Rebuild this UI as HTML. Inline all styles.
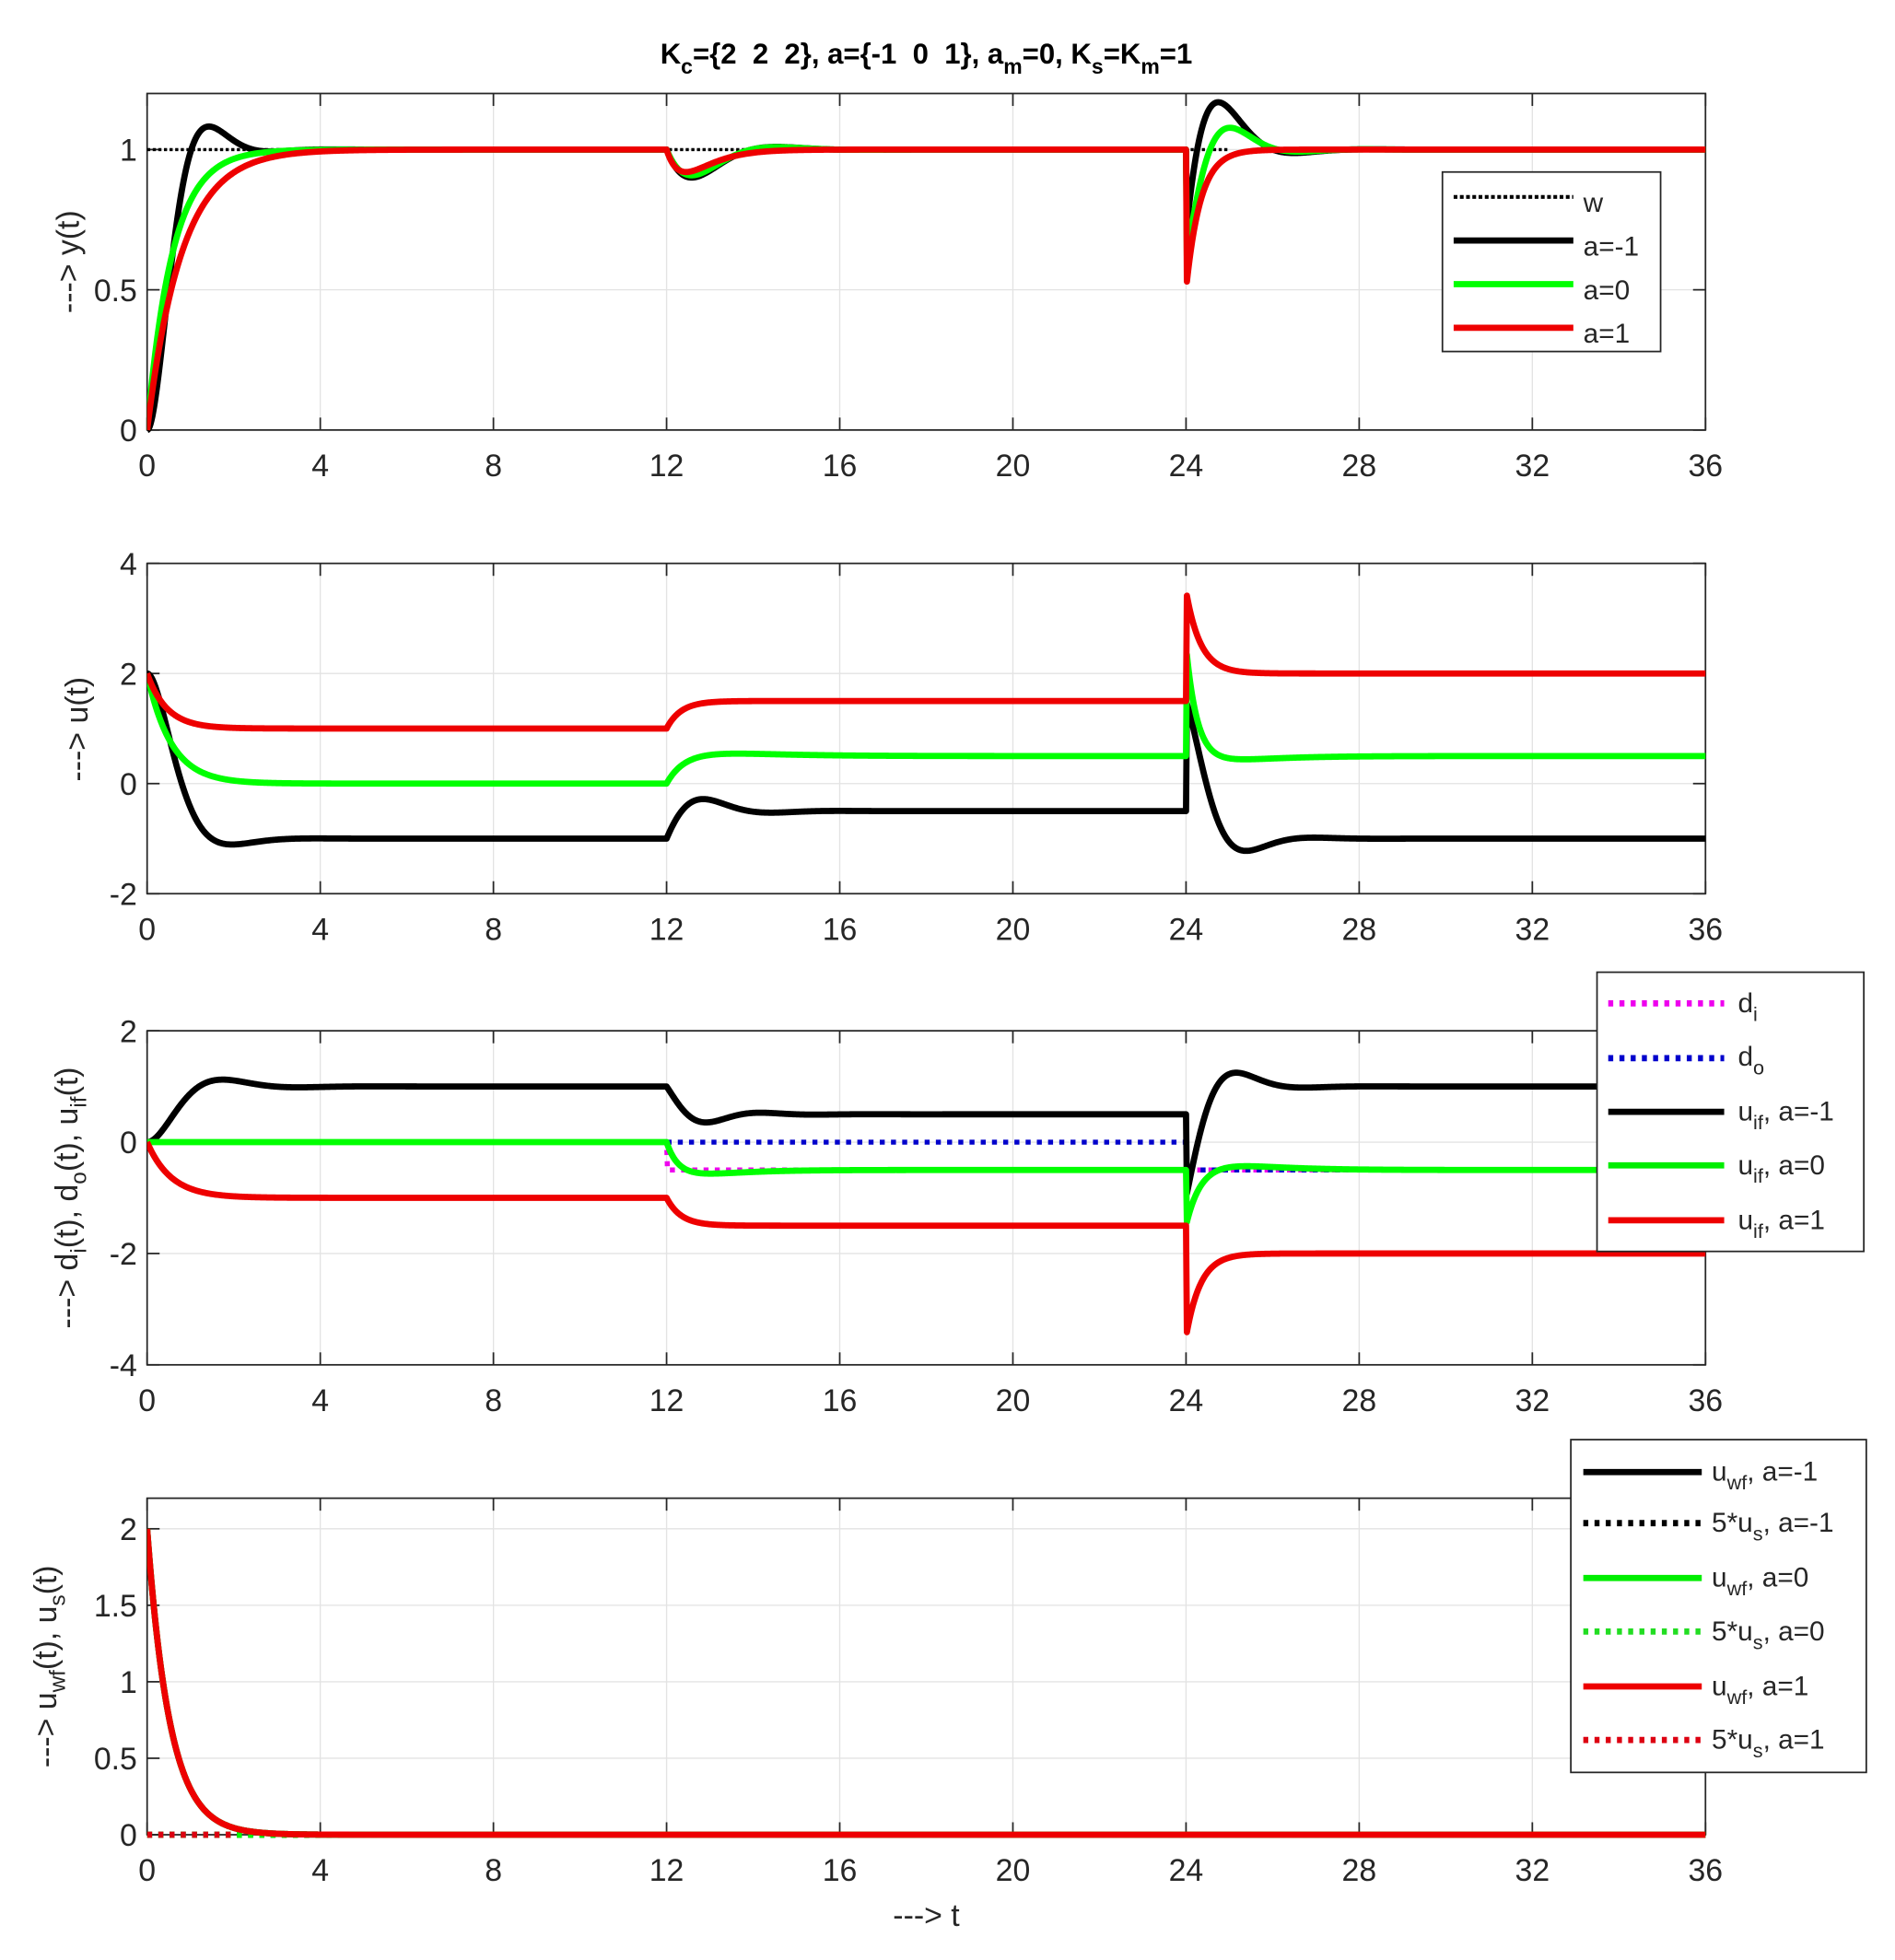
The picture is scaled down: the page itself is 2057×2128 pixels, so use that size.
<!DOCTYPE html>
<html><head><meta charset="utf-8"><style>
html,body{margin:0;padding:0;background:#fff}
svg{display:block}
text{font-family:"Liberation Sans",Arial,sans-serif;fill:#262626}
.tk{font-size:25px}
.lg{font-size:22px}
</style></head><body>
<svg id="s" width="2057" height="2128" viewBox="0 0 1520 1572.5" xmlns="http://www.w3.org/2000/svg">
<text x="743" y="51" text-anchor="middle" style="font-size:23px;font-weight:bold;fill:#000;white-space:pre">K<tspan dy="8" style="font-size:17px">c</tspan><tspan dy="-8">={2  2  2}, a={-1  0  1}, a</tspan><tspan dy="8" style="font-size:17px">m</tspan><tspan dy="-8">=0, K</tspan><tspan dy="8" style="font-size:17px">s</tspan><tspan dy="-8">=K</tspan><tspan dy="8" style="font-size:17px">m</tspan><tspan dy="-8">=1</tspan></text>
<g id="plots"></g>
<text transform="translate(63,210) rotate(-90)" text-anchor="middle" class="tk">---&gt; y(t)</text>
<text transform="translate(70,585) rotate(-90)" text-anchor="middle" class="tk">---&gt; u(t)</text>
<text transform="translate(62,961) rotate(-90)" text-anchor="middle" class="tk">---&gt; d<tspan dy="7" style="font-size:18px">i</tspan><tspan dy="-7">(t), d</tspan><tspan dy="7" style="font-size:18px">o</tspan><tspan dy="-7">(t), u</tspan><tspan dy="7" style="font-size:18px">if</tspan><tspan dy="-7">(t)</tspan></text>
<text transform="translate(45,1337) rotate(-90)" text-anchor="middle" class="tk">---&gt; u<tspan dy="7" style="font-size:18px">wf</tspan><tspan dy="-7">(t), u</tspan><tspan dy="7" style="font-size:18px">s</tspan><tspan dy="-7">(t)</tspan></text>
<text x="743" y="1545" text-anchor="middle" class="tk">---&gt; t</text>

<g>
<rect x="1157" y="138" width="175" height="144" fill="#fff" stroke="#262626" stroke-width="1.3"/>
<line x1="1166" y1="158" x2="1262" y2="158" stroke="#000" stroke-width="3" stroke-dasharray="3,2"/>
<line x1="1166" y1="193" x2="1262" y2="193" stroke="#000" stroke-width="5"/>
<line x1="1166" y1="228" x2="1262" y2="228" stroke="#0f0" stroke-width="5"/>
<line x1="1166" y1="263" x2="1262" y2="263" stroke="#e00" stroke-width="5"/>
<text x="1270" y="170" class="lg">w</text>
<text x="1270" y="205" class="lg">a=-1</text>
<text x="1270" y="240" class="lg">a=0</text>
<text x="1270" y="275" class="lg">a=1</text>
</g>
<g>
<rect x="1281" y="780" width="214" height="224" fill="#fff" stroke="#262626" stroke-width="1.3"/>
<line x1="1290" y1="805" x2="1383" y2="805" stroke="#e0e" stroke-width="5" stroke-dasharray="4,5"/>
<line x1="1290" y1="849" x2="1383" y2="849" stroke="#00c" stroke-width="5" stroke-dasharray="4,5"/>
<line x1="1290" y1="892" x2="1383" y2="892" stroke="#000" stroke-width="5"/>
<line x1="1290" y1="935" x2="1383" y2="935" stroke="#0e0" stroke-width="5"/>
<line x1="1290" y1="979" x2="1383" y2="979" stroke="#e00" stroke-width="5"/>
<text x="1394" y="812" class="lg">d<tspan dy="7" style="font-size:16px">i</tspan></text>
<text x="1394" y="855" class="lg">d<tspan dy="7" style="font-size:16px">o</tspan></text>
<text x="1394" y="899" class="lg">u<tspan dy="7" style="font-size:16px">if</tspan><tspan dy="-7">, a=-1</tspan></text>
<text x="1394" y="942" class="lg">u<tspan dy="7" style="font-size:16px">if</tspan><tspan dy="-7">, a=0</tspan></text>
<text x="1394" y="986" class="lg">u<tspan dy="7" style="font-size:16px">if</tspan><tspan dy="-7">, a=1</tspan></text>
</g>
<g>
<rect x="1260" y="1155" width="237" height="267" fill="#fff" stroke="#262626" stroke-width="1.3"/>
<line x1="1270" y1="1181" x2="1365" y2="1181" stroke="#000" stroke-width="5"/>
<line x1="1270" y1="1222" x2="1365" y2="1222" stroke="#000" stroke-width="5" stroke-dasharray="4,5"/>
<line x1="1270" y1="1266" x2="1365" y2="1266" stroke="#0e0" stroke-width="5"/>
<line x1="1270" y1="1309" x2="1365" y2="1309" stroke="#2d2" stroke-width="5" stroke-dasharray="4,5"/>
<line x1="1270" y1="1353" x2="1365" y2="1353" stroke="#e00" stroke-width="5"/>
<line x1="1270" y1="1396" x2="1365" y2="1396" stroke="#d01" stroke-width="5" stroke-dasharray="4,5"/>
<text x="1373" y="1188" class="lg">u<tspan dy="7" style="font-size:16px">wf</tspan><tspan dy="-7">, a=-1</tspan></text>
<text x="1373" y="1229" class="lg">5*u<tspan dy="7" style="font-size:16px">s</tspan><tspan dy="-7">, a=-1</tspan></text>
<text x="1373" y="1273" class="lg">u<tspan dy="7" style="font-size:16px">wf</tspan><tspan dy="-7">, a=0</tspan></text>
<text x="1373" y="1316" class="lg">5*u<tspan dy="7" style="font-size:16px">s</tspan><tspan dy="-7">, a=0</tspan></text>
<text x="1373" y="1360" class="lg">u<tspan dy="7" style="font-size:16px">wf</tspan><tspan dy="-7">, a=1</tspan></text>
<text x="1373" y="1403" class="lg">5*u<tspan dy="7" style="font-size:16px">s</tspan><tspan dy="-7">, a=1</tspan></text>
</g>
</svg>
<script>
(function(){
var NS="http://www.w3.org/2000/svg";
var g=document.getElementById("plots");
var L=118,R=1368;
function E(s){return Math.exp(s)}
function bump(s,t){return s/t*E(1-s/t)}
var P=[
 {top:75,bot:345,ymin:0,ymax:1.2,ticks:[0,0.5,1],lab:["0","0.5","1"]},
 {top:452,bot:717,ymin:-2,ymax:4,ticks:[-2,0,2,4],lab:["-2","0","2","4"]},
 {top:827,bot:1095,ymin:-4,ymax:2,ticks:[-4,-2,0,2],lab:["-4","-2","0","2"]},
 {top:1202,bot:1472,ymin:0,ymax:2.2,ticks:[0,0.5,1,1.5,2],lab:["0","0.5","1","1.5","2"]}
];
function el(n,a,p){var e=document.createElementNS(NS,n);for(var k in a)e.setAttribute(k,a[k]);(p||g).appendChild(e);return e}
function X(t){return L+(R-L)*t/36}
P.forEach(function(p,i){
 function Y(v){return p.bot-(p.bot-p.top)*(v-p.ymin)/(p.ymax-p.ymin)}
 p.Y=Y;
 for(var t=4;t<36;t+=4)el("line",{x1:X(t),x2:X(t),y1:p.top,y2:p.bot,stroke:"#e3e3e3","stroke-width":1});
 p.ticks.forEach(function(v){if(v>p.ymin&&v<p.ymax)el("line",{x1:L,x2:R,y1:Y(v),y2:Y(v),stroke:"#e3e3e3","stroke-width":1})});
 el("rect",{x:L,y:p.top,width:R-L,height:p.bot-p.top,fill:"none",stroke:"#262626","stroke-width":1.3});
 for(var t=0;t<=36;t+=4){
  el("line",{x1:X(t),x2:X(t),y1:p.bot,y2:p.bot-10,stroke:"#262626","stroke-width":1.3});
  el("line",{x1:X(t),x2:X(t),y1:p.top,y2:p.top+10,stroke:"#262626","stroke-width":1.3});
  var tx=el("text",{x:X(t),y:p.bot+37,"text-anchor":"middle","class":"tk"});tx.textContent=String(t);
 }
 p.ticks.forEach(function(v,j){
  el("line",{x1:L,x2:L+10,y1:Y(v),y2:Y(v),stroke:"#262626","stroke-width":1.3});
  el("line",{x1:R,x2:R-10,y1:Y(v),y2:Y(v),stroke:"#262626","stroke-width":1.3});
  var tx=el("text",{x:L-8,y:Y(v)+9,"text-anchor":"end","class":"tk"});tx.textContent=p.lab[j];
 });
 var cp=el("clipPath",{id:"c"+i});el("rect",{x:L,y:p.top-3,width:R-L+3,height:p.bot-p.top+6},cp);
});
function curve(pi,f,color,w,dash,t0,t1){
 var p=P[pi],d="",n=0;t0=t0||0;t1=t1||36;
 for(var t=t0;t<=t1+1e-9;t+=0.02){
  var v=f(t);d+=(n++?"L":"M")+X(t).toFixed(2)+","+p.Y(v).toFixed(2);
 }
 var a={d:d,fill:"none",stroke:color,"stroke-width":w,"stroke-linejoin":"round","clip-path":"url(#c"+pi+")"};
 if(dash)a["stroke-dasharray"]=dash;
 el("path",a);
}
curve(0,function(){return 1},"#000",2.5,"2.5,2",0,25);
curve(0,function(t){
 if(t<12)return 1-E(-1.75*t)*(Math.cos(2.2*t)+0.8*Math.sin(2.2*t));
 if(t<24){var s=t-12;return 1-0.25*E(-1.2*s)*Math.sin(1.6*s);}
 var s=t-24;return 1+E(-1.5*s)*(-0.3*Math.cos(1.8*s)+0.6*Math.sin(1.8*s));},"#000",5);
curve(0,function(t){
 if(t<12)return 1-E(-1.7*t);
 if(t<24){var s=t-12;return 1-0.23*E(-1.2*s)*Math.sin(1.6*s);}
 var s=t-24;return 1+E(-1.5*s)*(-0.4*Math.cos(2*s)+0.2*Math.sin(2*s));},"#0f0",5);
curve(0,function(t){
 if(t<12)return 1-E(-1.25*t);
 if(t<24){var s=t-12;return 1-0.08*bump(s,0.45);}
 var s=t-24;return 1-0.5*E(-3*s);},"#e00",5);
curve(1,function(t){
 if(t<12)return -1+3*E(-1.7*t)*(Math.cos(1.6*t)+1.06*Math.sin(1.6*t));
 if(t<24){var s=t-12;return -0.5+E(-1.3*s)*(-0.5*Math.cos(2*s)+0.6*Math.sin(2*s));}
 var s=t-24;return -1+E(-1.6*s)*(2.5*Math.cos(2*s)+0.8*Math.sin(2*s));},"#000",5);
curve(1,function(t){
 if(t<12)return 2*E(-1.8*t);
 if(t<24){var s=t-12;return 0.5-0.5*E(-2.5*s)+0.06*bump(s,1);}
 var s=t-24;return 0.5+2*E(-4*s)-0.08*bump(s,0.8);},"#0f0",5);
curve(1,function(t){
 if(t<12)return 1+E(-2.2*t);
 if(t<24){var s=t-12;return 1.5-0.5*E(-3*s);}
 var s=t-24;return 2+1.5*E(-3*s);},"#e00",5);
curve(2,function(t){return t<12?0:-0.5},"#e0e",4,"4,5",0,36);
curve(2,function(t){return t<24?0:-0.5},"#00c",4,"4,5",12,36);
curve(2,function(t){
 if(t<12)return 1-E(-1.2*t)*(Math.cos(1.8*t)+0.67*Math.sin(1.8*t));
 if(t<24){var s=t-12;return 0.5+E(-1.3*s)*(0.5*Math.cos(2.5*s)-0.2*Math.sin(2.5*s));}
 var s=t-24;return 1+E(-1.6*s)*(-2*Math.cos(2*s)+0.3*Math.sin(2*s));},"#000",5);
curve(2,function(t){
 if(t<12)return 0;
 if(t<24){var s=t-12;return -0.5+0.5*E(-4*s)-0.08*bump(s,0.7);}
 var s=t-24;return -0.5-1*E(-3*s)+0.1*bump(s,0.8);},"#0f0",5);
curve(2,function(t){
 if(t<12)return -1+E(-1.8*t);
 if(t<24){var s=t-12;return -1.5+0.5*E(-3*s);}
 var s=t-24;return -2-1.5*E(-3*s);},"#e00",5);
curve(3,function(){return 0},"#000",5,"4,5");
curve(3,function(){return 0},"#0f0",5,"4,5");
curve(3,function(t){return 2*E(-1.9*t)},"#000",5);
curve(3,function(t){return 2*E(-1.9*t)},"#0f0",5);
curve(3,function(t){return 2*E(-1.9*t)},"#e00",5);
curve(3,function(){return 0},"#d01",5,"4,5",0,2);
})();
</script>
</body></html>
